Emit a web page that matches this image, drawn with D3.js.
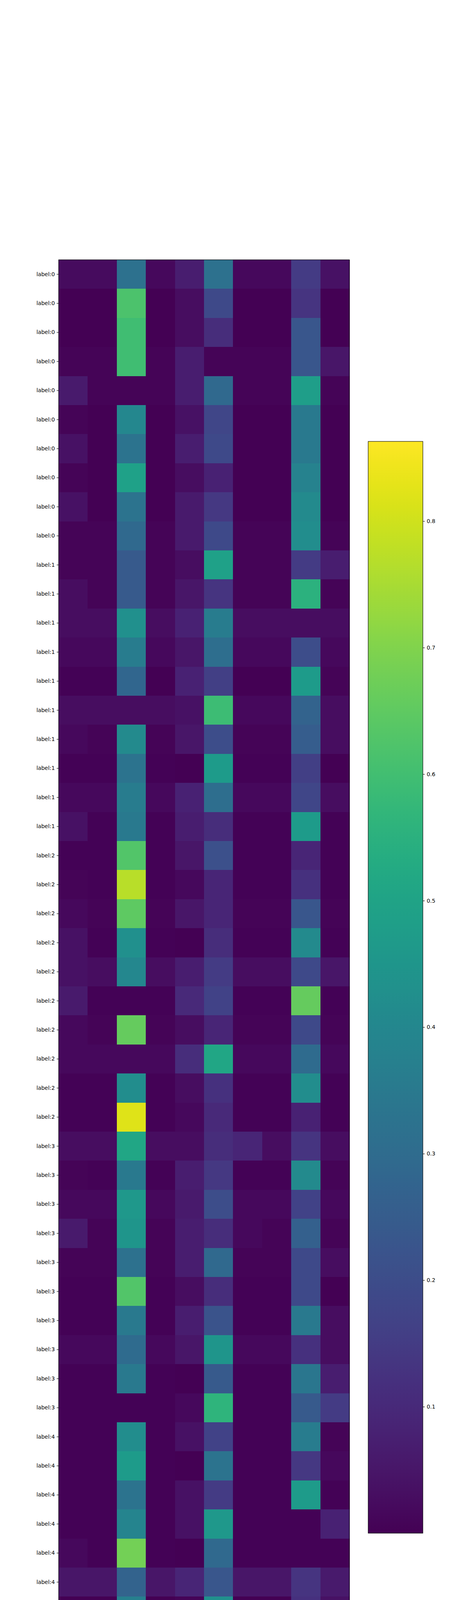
<!DOCTYPE html>
<html>
<head>
<meta charset="utf-8">
<script src="https://cdn.jsdelivr.net/npm/d3@7"></script>
<style>
  html, body { margin: 0; padding: 0; background: #fff; }
  #page { position: relative; width: 1200px; height: 5000px; background: #fff; overflow: hidden; }
  #chart { position: absolute; left: 0; top: 600px; display: block; }
  text { font-family: "DejaVu Sans", sans-serif; }
</style>
</head>
<body>
<div id="page"><svg id="chart" width="1200" height="3900"></svg></div>
<script>
// ---------------- data ----------------
const columns = ["R0","R1","R2","R3","R4","R5","R6","R7","R8","R9"];
const groupNames = ["label:0","label:1","label:2","label:3","label:4"];

const label0Values = [
  [0.025,0.025,0.32,0.02,0.07,0.32,0.02,0.02,0.15,0.04],
  [0.0,0.0,0.62,0.0,0.03,0.19,0.0,0.0,0.13,0.0],
  [0.0,0.0,0.60,0.0,0.03,0.11,0.0,0.0,0.23,0.0],
  [0.01,0.01,0.60,0.01,0.07,0.01,0.01,0.01,0.23,0.05],
  [0.06,0.01,0.01,0.01,0.07,0.29,0.01,0.01,0.48,0.01],
  [0.01,0.0,0.40,0.0,0.04,0.18,0.0,0.0,0.35,0.0],
  [0.04,0.0,0.33,0.0,0.07,0.19,0.0,0.0,0.35,0.0],
  [0.01,0.0,0.49,0.0,0.03,0.08,0.0,0.0,0.38,0.0],
  [0.04,0.0,0.33,0.0,0.06,0.14,0.0,0.0,0.41,0.0],
  [0.01,0.01,0.29,0.01,0.06,0.19,0.01,0.01,0.42,0.01]
];
const label1Values = [
  [0.01,0.01,0.24,0.01,0.03,0.49,0.01,0.01,0.15,0.07],
  [0.03,0.01,0.24,0.01,0.05,0.13,0.01,0.01,0.55,0.01],
  [0.03,0.03,0.43,0.03,0.08,0.36,0.03,0.03,0.03,0.03],
  [0.02,0.02,0.36,0.02,0.05,0.31,0.02,0.02,0.20,0.02],
  [0.005,0.005,0.28,0.0,0.08,0.16,0.0,0.0,0.47,0.01],
  [0.03,0.03,0.03,0.03,0.04,0.59,0.02,0.02,0.27,0.03],
  [0.02,0.01,0.41,0.01,0.05,0.20,0.01,0.01,0.25,0.03],
  [0.005,0.005,0.33,0.005,0.0,0.47,0.005,0.005,0.16,0.0],
  [0.02,0.02,0.36,0.02,0.08,0.31,0.02,0.02,0.18,0.03],
  [0.04,0.005,0.35,0.005,0.07,0.11,0.005,0.005,0.47,0.005]
];
const label2Values = [
  [0.005,0.005,0.63,0.005,0.05,0.21,0.005,0.005,0.09,0.005],
  [0.01,0.005,0.77,0.005,0.02,0.09,0.005,0.005,0.12,0.005],
  [0.02,0.01,0.65,0.01,0.05,0.09,0.01,0.01,0.23,0.01],
  [0.04,0.005,0.43,0.005,0.0,0.11,0.005,0.005,0.41,0.005],
  [0.04,0.03,0.40,0.03,0.07,0.15,0.03,0.03,0.19,0.05],
  [0.06,0.005,0.005,0.005,0.10,0.17,0.005,0.005,0.66,0.005],
  [0.02,0.01,0.66,0.01,0.03,0.09,0.01,0.01,0.19,0.01],
  [0.02,0.02,0.02,0.02,0.11,0.51,0.02,0.02,0.30,0.02],
  [0.005,0.005,0.42,0.005,0.03,0.12,0.005,0.005,0.42,0.005],
  [0.005,0.005,0.82,0.005,0.02,0.10,0.005,0.005,0.08,0.005]
];
const label3Values = [
  [0.03,0.03,0.51,0.03,0.03,0.11,0.09,0.03,0.13,0.03],
  [0.01,0.005,0.35,0.005,0.07,0.14,0.005,0.005,0.41,0.01],
  [0.02,0.02,0.46,0.02,0.06,0.20,0.02,0.02,0.17,0.02],
  [0.06,0.01,0.45,0.01,0.07,0.11,0.02,0.01,0.26,0.01],
  [0.01,0.01,0.32,0.01,0.07,0.29,0.01,0.01,0.19,0.03],
  [0.005,0.005,0.63,0.005,0.03,0.11,0.005,0.005,0.19,0.0],
  [0.005,0.005,0.35,0.005,0.07,0.22,0.005,0.005,0.35,0.03],
  [0.02,0.02,0.30,0.02,0.05,0.45,0.02,0.02,0.12,0.03],
  [0.005,0.005,0.35,0.005,0.0,0.24,0.005,0.005,0.34,0.07],
  [0.005,0.005,0.005,0.005,0.02,0.56,0.005,0.005,0.24,0.15]
];
const label4Values = [
  [0.005,0.005,0.42,0.005,0.04,0.17,0.005,0.005,0.36,0.01],
  [0.005,0.005,0.47,0.005,0.0,0.33,0.005,0.005,0.14,0.02],
  [0.005,0.005,0.33,0.005,0.04,0.15,0.005,0.005,0.47,0.005],
  [0.005,0.005,0.39,0.005,0.04,0.46,0.005,0.005,0.005,0.08],
  [0.02,0.005,0.68,0.005,0.0,0.29,0.005,0.005,0.005,0.005],
  [0.05,0.05,0.27,0.05,0.09,0.23,0.05,0.05,0.13,0.06],
  [0.0,0.0,0.37,0.0,0.01,0.43,0.0,0.0,0.12,0.04],
  [0.03,0.01,0.863,0.01,0.01,0.01,0.01,0.01,0.01,0.01],
  [0.03,0.01,0.01,0.01,0.01,0.55,0.01,0.01,0.31,0.01],
  [0.005,0.005,0.33,0.005,0.005,0.29,0.005,0.005,0.32,0.005]
];
const cbarTicks = [0.1,0.2,0.3,0.4,0.5,0.6,0.7,0.8];

// ---------------- build ----------------
const groups = [label0Values, label1Values, label2Values, label3Values, label4Values];
const rows = [];
groups.forEach((g, gi) => g.forEach(vals => rows.push({ label: groupNames[gi], vals })));
const cells = [];
rows.forEach((r, ri) => r.vals.forEach((v, ci) => cells.push({ row: ri, col: columns[ci], v })));

const svgTop = 600; // page offset of the svg element
const root = d3.select("#chart").append("g").attr("transform", `translate(0,${-svgTop})`);

const ax = { left: 150, right: 894, top: 665, bottom: 4385 };
const fontSize = 13.9;
const tickLen = 4.86;

const x = d3.scaleBand().domain(columns).range([ax.left, ax.right]).padding(0);
const y = d3.scaleBand().domain(d3.range(rows.length)).range([ax.top, ax.bottom]).padding(0);
const ext = d3.extent(cells, c => c.v);
const color = d3.scaleSequential(d3.interpolateViridis).domain(ext);

root.append("g").selectAll("rect").data(cells).join("rect")
  .attr("x", d => x(d.col))
  .attr("y", d => y(d.row))
  .attr("width", x.bandwidth() + 0.5)
  .attr("height", y.bandwidth() + 0.5)
  .attr("fill", d => color(d.v))
  .attr("shape-rendering", "crispEdges");

// frame
root.append("rect")
  .attr("x", ax.left).attr("y", ax.top)
  .attr("width", ax.right - ax.left).attr("height", ax.bottom - ax.top)
  .attr("fill", "none").attr("stroke", "#000").attr("stroke-width", 1.1);

function styleAxis(g) {
  g.select(".domain").remove();
  g.selectAll(".tick line").attr("stroke", "#000").attr("stroke-width", 1.1);
  g.selectAll(".tick text").attr("fill", "#000").attr("font-size", fontSize)
    .attr("font-family", '"DejaVu Sans", sans-serif');
}

// y axis
root.append("g")
  .attr("transform", `translate(${ax.left},0)`)
  .call(d3.axisLeft(y).tickSize(tickLen).tickPadding(4.86).tickFormat(i => rows[i].label))
  .call(styleAxis);

// x axis
root.append("g")
  .attr("transform", `translate(0,${ax.bottom})`)
  .call(d3.axisBottom(x).tickSize(tickLen).tickPadding(4.86))
  .call(styleAxis);

// colorbar
const cb = { left: 942, right: 1082, top: 1130, bottom: 3925 };
const cy = d3.scaleLinear().domain(ext).range([cb.bottom, cb.top]);
const defs = d3.select("#chart").append("defs");
const grad = defs.append("linearGradient").attr("id", "cbgrad")
  .attr("x1", 0).attr("y1", 1).attr("x2", 0).attr("y2", 0);
d3.range(0, 1.0001, 0.02).forEach(t => {
  grad.append("stop").attr("offset", t).attr("stop-color", d3.interpolateViridis(t));
});
root.append("rect")
  .attr("x", cb.left).attr("y", cy(ext[1]))
  .attr("width", cb.right - cb.left).attr("height", cy(ext[0]) - cy(ext[1]))
  .attr("fill", "url(#cbgrad)")
  .attr("stroke", "#000").attr("stroke-width", 1.1);

root.append("g")
  .attr("transform", `translate(${cb.right},0)`)
  .call(d3.axisRight(cy).tickValues(cbarTicks).tickSize(tickLen).tickPadding(4.86).tickFormat(d3.format(".1f")))
  .call(styleAxis);
</script>
</body>
</html>
